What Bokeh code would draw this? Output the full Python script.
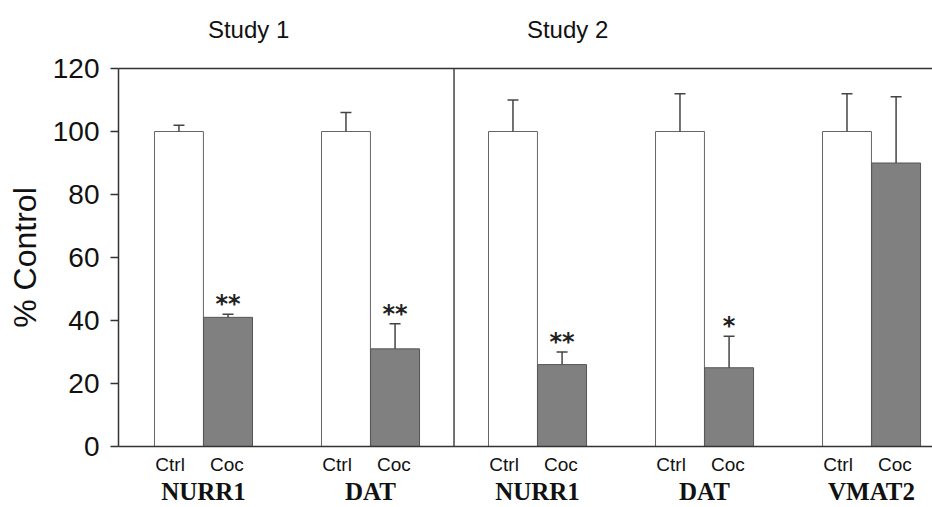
from bokeh.plotting import figure
from bokeh.models import (Range1d, FixedTicker, LinearAxis, Span, Whisker, TeeHead,
                          ColumnDataSource)
from bokeh.core.properties import value
from bokeh.embed import file_html
from bokeh.resources import INLINE

# ---- data ----
genes = ["NURR1", "DAT", "NURR1", "DAT", "VMAT2"]
studies = ["Study 1", "Study 2"]
ctrl_vals = [100, 100, 100, 100, 100]
ctrl_err = [2, 6, 10, 12, 12]
coc_vals = [41, 31, 26, 25, 90]
coc_err = [1, 8, 4, 10, 21]
sig = ["**", "**", "**", "*", ""]
y_ticks = [0, 20, 40, 60, 80, 100, 120]

# ---- layout helpers ----
n = len(genes)
g = list(range(n))
off = 0.147
bw = 0.293
ctrl_x = [i - off for i in g]
coc_x = [i + off for i in g]

p = figure(width=932, height=507,
           x_range=Range1d(-0.509, 4.365), y_range=Range1d(0, 120),
           output_backend="svg", toolbar_location=None,
           min_border_left=118, min_border_right=0,
           min_border_top=68, min_border_bottom=61)
p.grid.visible = False
p.outline_line_color = None
p.background_fill_color = "white"

# bars
p.vbar(x=ctrl_x, top=ctrl_vals, width=bw, bottom=0,
       fill_color="white", line_color="#666666", line_width=1)
p.vbar(x=coc_x, top=coc_vals, width=bw, bottom=0,
       fill_color="#808080", line_color="#555555", line_width=1)

# error bars (upper only)
ctrl_up = [v + e for v, e in zip(ctrl_vals, ctrl_err)]
coc_up = [v + e for v, e in zip(coc_vals, coc_err)]
src_err = ColumnDataSource(dict(x=ctrl_x + coc_x,
                                lo=ctrl_vals + coc_vals,
                                hi=ctrl_up + coc_up))
wh = Whisker(base="x", lower="lo", upper="hi", source=src_err, dimension="height",
             line_color="#444444", line_width=1.5,
             upper_head=TeeHead(size=11, line_color="#444444", line_width=1.5),
             lower_head=None, level="overlay")
p.add_layout(wh)

# significance stars
p.text(x=coc_x, y=[u + 3.2 for u in coc_up], text=sig,
       text_font=value("DejaVu Sans"), text_font_size="24px", text_font_style="bold",
       text_align="center", text_baseline="alphabetic", text_color="#222222")

# divider between studies
p.add_layout(Span(location=1.5, dimension="height", line_color="#444444", line_width=1.5))

# y axis
ya = p.yaxis[0]
ya.ticker = FixedTicker(ticks=y_ticks)
ya.minor_tick_line_color = None
ya.major_tick_out = 8
ya.major_tick_in = 0
ya.axis_line_color = "#333333"
ya.axis_line_width = 1.5
ya.major_tick_line_color = "#333333"
ya.major_tick_line_width = 1.5
ya.major_label_text_font = "Liberation Sans"
ya.major_label_text_font_size = "28px"
ya.major_label_text_color = "#111111"
ya.major_label_standoff = 11
ya.axis_label = "% Control"
ya.axis_label_text_font = "Liberation Sans"
ya.axis_label_text_font_style = "normal"
ya.axis_label_text_font_size = "32px"
ya.axis_label_text_color = "#111111"
ya.axis_label_standoff = 7

# bottom axis: Ctrl / Coc
xa = p.xaxis[0]
tick_pos = []
overrides = {}
for i in g:
    a = i - 0.2
    b = i + 0.14
    tick_pos += [a, b]
    overrides[a] = "Ctrl"
    overrides[b] = "Coc"
xa.ticker = FixedTicker(ticks=tick_pos)
xa.major_label_overrides = overrides
xa.major_tick_out = 0
xa.major_tick_in = 0
xa.minor_tick_line_color = None
xa.axis_line_color = "#333333"
xa.axis_line_width = 1.5
xa.major_label_text_font = "Liberation Sans"
xa.major_label_text_font_size = "19px"
xa.major_label_text_color = "#111111"
xa.major_label_standoff = 7

# second bottom axis: gene names
ga = LinearAxis(ticker=FixedTicker(ticks=g),
                major_label_overrides={i: name for i, name in zip(g, genes)})
ga.axis_line_color = None
ga.major_tick_out = 0
ga.major_tick_in = 0
ga.minor_tick_line_color = None
ga.major_label_text_font = "Liberation Serif"
ga.major_label_text_font_style = "bold"
ga.major_label_text_font_size = "25px"
ga.major_label_text_color = "#111111"
ga.major_label_standoff = 0
p.add_layout(ga, "below")

# top axis: study titles + top frame line
study_pos = [0.27, 2.18]
ta = LinearAxis(ticker=FixedTicker(ticks=study_pos),
                major_label_overrides={study_pos[0]: studies[0], study_pos[1]: studies[1]})
ta.major_tick_out = 0
ta.major_tick_in = 0
ta.minor_tick_line_color = None
ta.axis_line_color = "#333333"
ta.axis_line_width = 1.5
ta.major_label_text_font = "Liberation Sans"
ta.major_label_text_font_size = "24px"
ta.major_label_text_color = "#111111"
ta.major_label_standoff = 26
p.add_layout(ta, "above")

open("out.html", "w").write(file_html(p, INLINE))
